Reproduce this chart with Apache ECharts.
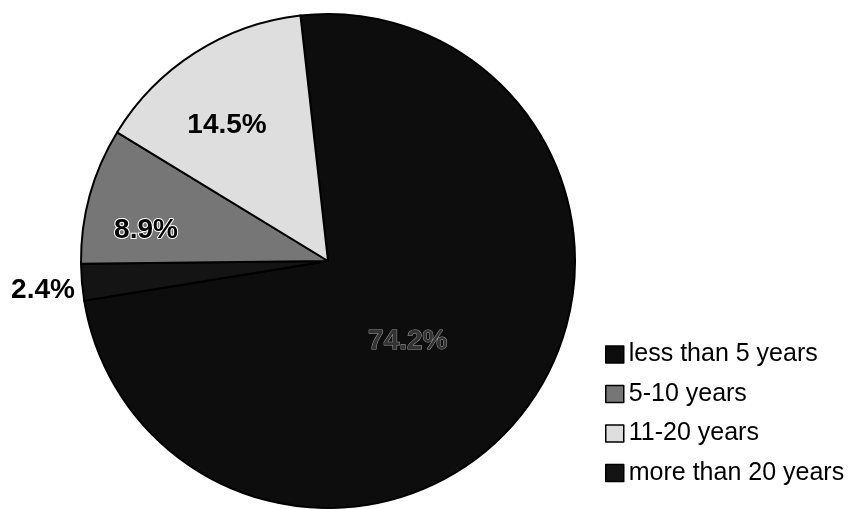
<!DOCTYPE html>
<html>
<head>
<meta charset="utf-8">
<script src="https://cdn.jsdelivr.net/npm/echarts@6/dist/echarts.min.js"></script>
<style>
html,body{margin:0;padding:0;background:#fff;}
#chart{width:850px;height:509px;}
</style>
</head>
<body>
<div id="chart"></div>
<script>
// Categories in legend order
const legendOrder = ['less than 5 years', '5-10 years', '11-20 years', 'more than 20 years'];
// Slices in drawing order (clockwise from the top boundary)
const sliceNames = ['less than 5 years', 'more than 20 years', '5-10 years', '11-20 years'];
const sliceValues = [74.2, 2.4, 8.9, 14.5];
const sliceColors = ['#0d0d0d', '#141414', '#767676', '#dedede'];
const sliceBorders = ['#000', '#000', '#000', '#000'];
const labelColors = ['#333', '#000', '#000', '#000'];
const labelOffsets = [[-21, 4], [-159, 18], [-60, 3], [-33, -29]];

const chart = echarts.init(document.getElementById('chart'), null, {renderer: 'canvas'});

const data = sliceNames.map((n, i) => ({
  name: n,
  value: sliceValues[i],
  itemStyle: {color: sliceColors[i], borderColor: sliceBorders[i], borderWidth: 2},
  label: {
    color: labelColors[i],
    offset: labelOffsets[i],
    textBorderColor: i === 0 ? '#9a9a9a' : (i === 2 ? '#ffffff' : 'transparent'),
    textBorderWidth: i === 0 ? 1 : (i === 2 ? 2 : 0)
  }
}));

chart.setOption({
  animation: false,
  backgroundColor: '#fff',
  legend: {
    orient: 'vertical',
    left: 600,
    top: 337,
    data: legendOrder,
    icon: 'rect',
    itemWidth: 18,
    itemHeight: 17,
    itemGap: 14.5,
    itemStyle: {borderColor: '#000', borderWidth: 1.5},
    textStyle: {fontFamily: 'Liberation Sans, Arial, sans-serif', fontSize: 25, color: '#000', lineHeight: 24},
    selectedMode: false
  },
  series: [{
    type: 'pie',
    center: [328, 261],
    radius: 247,
    startAngle: 96.4,
    clockwise: true,
    avoidLabelOverlap: false,
    label: {
      show: true,
      position: 'inside',
      formatter: '{c}%',
      fontFamily: 'Liberation Sans, Arial, sans-serif',
      fontWeight: 'bold',
      fontSize: 28
    },
    labelLine: {show: false},
    emphasis: {disabled: true},
    data: data
  }]
});
</script>
</body>
</html>
